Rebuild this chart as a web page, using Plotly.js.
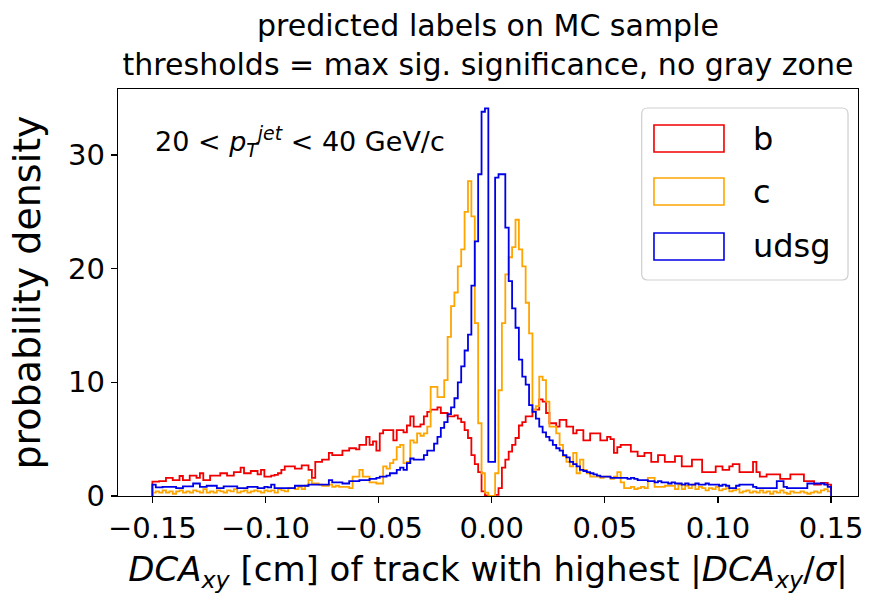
<!DOCTYPE html>
<html><head><meta charset="utf-8">
<script src="https://cdn.plot.ly/plotly-3.0.1.min.js"></script>
<style>html,body{margin:0;padding:0;background:#fff}#chart{width:871px;height:596px}</style>
</head><body><div id="chart"></div>
<script>
// histogram binning (200 bins on [-0.15, 0.15])
const binStart = -0.15;
const binWidth = 0.0015;
const seriesNames = ['b', 'c', 'udsg'];
const seriesColors = ['#f00000', '#ffa500', '#0000e6'];
const xTickValues = [-0.15, -0.10, -0.05, 0, 0.05, 0.10, 0.15];
const yTickValues = [0, 10, 20, 30];

const bValues = [
1.26,1.26,1.3,1.3,1.6,1.6,1.4,1.4,1.76,1.4,
1.4,1.8,1.8,1.6,2.0,1.4,1.4,1.8,1.8,1.8,
2.0,2.0,1.8,1.8,2.1,2.1,2.5,2.0,2.0,2.2,
2.2,1.9,2.3,1.7,1.7,1.8,1.85,2.0,2.3,2.6,
2.6,2.6,2.4,2.4,2.7,2.7,2.3,1.6,3.0,3.0,
3.2,3.2,3.8,3.6,3.6,3.6,4.0,4.0,4.2,4.2,
4.1,4.5,4.5,5.2,4.5,4.8,4.0,5.5,5.8,5.8,
5.8,4.9,5.8,5.8,5.6,6.2,7.0,6.1,6.1,6.3,
7.0,7.4,7.6,7.6,7.8,7.3,7.3,7.0,7.0,7.1,
6.8,6.5,5.8,5.1,3.6,2.8,2.1,0.4,0.05,0,
0,0.1,0.7,2.5,3.2,3.9,4.5,5.1,6.2,6.5,
7.0,7.0,7.6,7.6,8.5,8.3,7.3,6.4,6.4,6.1,
6.7,6.7,6.1,6.1,5.5,5.8,5.8,4.9,4.9,5.5,
5.5,5.5,4.9,4.9,5.2,5.0,3.8,4.3,4.5,4.5,
4.5,3.9,3.9,3.5,3.5,3.8,3.8,3.0,3.0,3.6,
3.6,3.0,3.0,3.0,3.5,3.5,2.6,2.6,2.6,3.2,
3.2,3.2,2.1,2.1,2.1,2.1,2.6,2.6,2.3,2.3,
2.6,2.8,2.8,2.1,2.1,2.1,2.1,3.0,2.1,1.7,
1.7,1.9,1.9,1.9,1.9,1.5,1.5,1.5,1.9,1.9,
1.9,1.9,1.3,1.3,1.3,1.0,1.0,1.15,1.15,1.0];

const cValues = [
0.3,0.4,0.3,0.5,0.3,0.4,0.2,0.4,0.5,0.3,
0.4,0.3,0.5,0.4,0.3,0.6,0.3,0.4,0.3,0.5,
0.4,0.3,0.5,0.4,0.6,0.3,0.4,0.5,0.3,0.4,
0.5,0.4,0.3,0.5,0.4,0.5,0.3,0.6,0.5,0.4,
0.7,0.7,0.6,0.8,0.6,0.9,1.4,1.1,1.1,1.0,
0.9,0.9,1.0,0.8,0.9,0.8,0.8,0.8,0.7,1.7,
1.7,2.3,1.7,1.7,1.2,1.2,1.1,1.1,2.6,2.4,
2.9,3.2,4.3,4.5,2.9,3.0,4.9,4.7,5.5,5.3,
5.5,6.1,9.6,9.6,8.7,8.7,10.2,14.0,16.7,17.9,
20.2,21.7,25.0,27.7,24.6,15.2,6.4,2.0,0.3,0,
0,2.0,9.3,15.2,19.5,21.0,21.9,24.3,21.7,20.2,
17.0,14.3,7.6,7.9,10.5,10.2,8.3,6.1,6.1,5.5,
4.5,3.5,3.0,2.6,3.8,2.0,3.2,2.3,2.0,1.7,
1.7,1.7,1.6,1.7,1.7,1.5,1.7,2.1,1.2,0.7,
0.7,0.8,0.6,0.7,0.8,0.7,1.6,1.6,0.8,0.8,
0.8,0.9,0.9,0.9,0.6,1.0,0.6,0.9,0.7,1.0,
0.6,0.8,0.7,0.5,0.7,0.6,0.8,0.5,0.6,0.7,
0.4,0.5,0.6,0.3,0.4,0.5,0.3,0.4,0.3,0.5,
0.3,0.4,0.2,0.4,0.3,0.5,0.3,0.2,0.4,0.3,
0.3,0.4,0.3,0.2,0.3,0.4,0.3,0.5,0.6,0.4];

const udsgValues = [
1.0,0.75,0.75,0.8,0.8,0.8,0.8,0.7,0.7,0.85,
0.85,0.85,1.1,1.1,0.8,0.8,0.9,0.9,0.9,0.7,
0.7,0.85,0.85,0.85,0.85,0.7,0.7,0.7,0.8,0.8,
0.8,0.7,0.7,0.8,0.75,1.0,0.7,0.7,0.7,0.7,
0.7,0.7,0.9,0.9,0.9,0.9,1.0,1.0,1.0,1.0,
1.0,1.0,1.4,1.2,1.2,1.2,1.1,1.1,1.3,1.3,
1.3,1.4,1.4,1.4,1.5,1.5,1.6,1.7,1.7,1.8,
2.0,2.0,2.3,2.5,2.3,2.9,3.3,3.2,3.2,3.2,
3.6,4.0,4.0,4.6,5.2,6.0,6.5,7.2,7.8,8.6,
10.0,11.4,12.8,14.2,18.5,22.4,28.3,33.8,34.1,3.0,
3.0,28.0,28.3,28.3,23.6,18.9,16.5,14.8,12.0,10.5,
9.8,8.0,7.4,6.8,6.1,5.6,5.2,4.9,4.5,4.2,
4.0,3.6,3.4,3.0,2.8,2.6,2.3,2.2,2.1,2.0,
1.9,1.8,1.7,1.7,1.7,1.6,1.6,1.6,1.6,1.6,
1.5,1.6,1.5,1.4,1.4,1.4,1.3,1.3,1.2,1.3,
1.2,1.2,1.1,1.2,1.1,1.1,1.0,1.1,1.0,1.0,
1.1,1.0,1.0,1.1,1.0,1.0,1.0,0.9,1.0,0.9,
0.7,0.7,0.9,1.0,1.0,1.0,1.0,0.8,0.7,0.7,
0.7,0.7,0.7,0.7,1.3,1.3,0.8,0.7,0.7,0.7,
0.7,0.7,0.7,1.1,1.1,1.1,1.1,1.1,1.0,0.8];

const allSeries = [bValues, cValues, udsgValues];

function stepOutline(vals) {
  const x = [binStart], y = [0];
  for (let i = 0; i < vals.length; i++) {
    x.push(binStart + i * binWidth);
    y.push(vals[i]);
  }
  x.push(binStart + vals.length * binWidth);
  y.push(0);
  return {x, y};
}

const traces = allSeries.map((vals, i) => {
  const s = stepOutline(vals);
  return {
    type: 'scatter', mode: 'lines', name: seriesNames[i],
    x: s.x, y: s.y,
    line: {color: seriesColors[i], width: 1.8, shape: 'hv'},
    showlegend: false, hoverinfo: 'skip'
  };
});

const FONT = 'DejaVu Sans, Verdana, sans-serif';

// manual legend (matplotlib style: hollow patches in a rounded box)
const lgX0 = 0.7077, lgX1 = 0.9865, lgY0 = 0.5307, lgY1 = 0.9533;
const rx = 6 / 740, ry = 6 / 407;
const legendBox = {
  type: 'path', xref: 'paper', yref: 'paper', layer: 'above',
  path: `M ${lgX0 + rx},${lgY0} L ${lgX1 - rx},${lgY0} Q ${lgX1},${lgY0} ${lgX1},${lgY0 + ry} ` +
        `L ${lgX1},${lgY1 - ry} Q ${lgX1},${lgY1} ${lgX1 - rx},${lgY1} L ${lgX0 + rx},${lgY1} ` +
        `Q ${lgX0},${lgY1} ${lgX0},${lgY1 - ry} L ${lgX0},${lgY0 + ry} Q ${lgX0},${lgY0} ${lgX0 + rx},${lgY0} Z`,
  line: {color: '#cfcfcf', width: 1.2}, fillcolor: 'rgba(255,255,255,0.8)'
};
const patchRows = [[0.8452, 0.9115], [0.7150, 0.7813], [0.5799, 0.6462]];
const shapes = [legendBox];
const annotations = [];
patchRows.forEach((r, i) => {
  shapes.push({type: 'rect', xref: 'paper', yref: 'paper', layer: 'above',
    x0: 0.7243, x1: 0.8189, y0: r[0], y1: r[1],
    line: {color: seriesColors[i], width: 1.6}, fillcolor: 'rgba(0,0,0,0)'});
  annotations.push({xref: 'paper', yref: 'paper', x: 0.8554, y: (r[0] + r[1]) / 2,
    xanchor: 'left', yanchor: 'middle', showarrow: false, text: seriesNames[i],
    font: {family: FONT, size: 32, color: '#000'}});
});
annotations.push({xref: 'paper', yref: 'paper', x: 0.047, y: 0.87, xanchor: 'left', yanchor: 'middle',
  showarrow: false, text: '20 &lt; <i>p</i><sub><i>T</i></sub><sup><i>jet</i></sup> &lt; 40 GeV/c',
  font: {family: FONT, size: 27, color: '#000'}});

const layout = {
  width: 871, height: 596,
  margin: {l: 118, r: 13, t: 89, b: 100, pad: 0},
  paper_bgcolor: '#ffffff', plot_bgcolor: '#ffffff',
  font: {family: FONT, color: '#000', size: 29},
  title: {
    text: 'predicted labels on MC sample<br>thresholds = max sig. significance, no gray zone',
    font: {family: FONT, size: 30, color: '#000'},
    x: 0.5, xref: 'paper', xanchor: 'center', y: 1 - 36 / 596, yref: 'container', yanchor: 'top'
  },
  xaxis: {
    range: [-0.1652, 0.1619], tickvals: xTickValues, tickformat: '.2f',
    ticks: 'outside', ticklen: 6, tickwidth: 1.3, tickcolor: '#000',
    showline: true, linecolor: '#000', linewidth: 1.3, mirror: true,
    showgrid: false, zeroline: false, automargin: false,
    tickfont: {family: FONT, size: 29, color: '#000'},
    title: {text: '<i>DCA</i><sub><i>xy</i></sub> [cm] of track with highest |<i>DCA</i><sub><i>xy</i></sub>/<i>σ</i>|',
      font: {family: FONT, size: 34, color: '#000'}, standoff: 13}
  },
  yaxis: {
    range: [0, 35.8], tickvals: yTickValues,
    ticks: 'outside', ticklen: 6, tickwidth: 1.3, tickcolor: '#000',
    showline: true, linecolor: '#000', linewidth: 1.3, mirror: true,
    showgrid: false, zeroline: false, automargin: false,
    tickfont: {family: FONT, size: 29, color: '#000'},
    title: {text: 'probability density', font: {family: FONT, size: 38, color: '#000'}, standoff: 15}
  },
  shapes: shapes,
  annotations: annotations,
  showlegend: false
};

Plotly.newPlot('chart', traces, layout, {staticPlot: true, displayModeBar: false});
</script>
</body></html>
